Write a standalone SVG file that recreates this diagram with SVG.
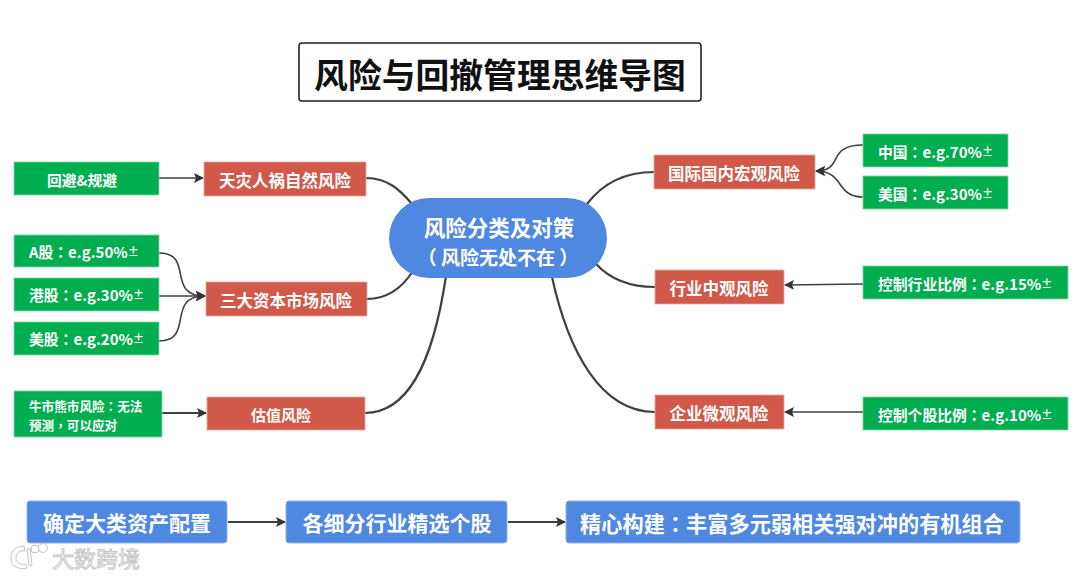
<svg xmlns="http://www.w3.org/2000/svg" width="1080" height="577" viewBox="0 0 1080 577">
<defs>
<style>
text{font-family:"Noto Sans CJK SC","Liberation Sans",sans-serif;font-weight:700;fill:#fff;text-anchor:middle;dominant-baseline:central}
.g{fill:#00ad4f;stroke:#7fd6a7;stroke-width:.8}
.r{fill:#d0594a;stroke:#e8a79e;stroke-width:.8}
.b{fill:#4f88e0;stroke:#8fb3ec;stroke-width:1}
text.gt{font-size:14.8px;text-anchor:start}
.rt{font-size:16.5px}
.bt{font-size:21px}
.k{font-family:"Noto Sans CJK TC",sans-serif}
.e{font-size:15px}
.p{font-size:11px}
.c{fill:none;stroke:#404040;stroke-width:2.2}
.l{fill:none;stroke:#404040;stroke-width:1.6}
.w{fill:#fff;stroke:#c4c4c4;stroke-width:1}
</style>
<marker id="a" markerWidth="11" markerHeight="11" refX="9" refY="5.5" orient="auto" markerUnits="userSpaceOnUse"><path d="M0 0.5L10 5.5L0 10.500L2 5.500Z" fill="#333"/></marker>
</defs>
<rect width="1080" height="577" fill="#fff"/>
<g id="connectors">
<path class="c" d="M366 178C388 178 400 190 412 204"/>
<path class="c" d="M367 299C388 299 402 288 413 271"/>
<path class="c" d="M365 413C405 413 432 370 446 276"/>
<path class="c" d="M587 204C603 183 625 172 654 172"/>
<path class="c" d="M596 264C610 279 630 287 655 287"/>
<path class="c" d="M552 277C568 350 600 412 655 412"/>
<path class="l" marker-end="url(#a)" d="M159 178H203"/>
<path class="l" marker-end="url(#a)" d="M159 253C195 253 165 296 205 296"/>
<path class="l" marker-end="url(#a)" d="M159 296H205"/>
<path class="l" marker-end="url(#a)" d="M159 341C195 341 165 296 205 296"/>
<path class="c" marker-end="url(#a)" d="M162 413H206"/>
<path class="l" marker-end="url(#a)" d="M863 145C825 145 845 171 816 171"/>
<path class="l" marker-end="url(#a)" d="M863 197C835 197 845 171 816 171"/>
<path class="l" marker-end="url(#a)" d="M863 284L785 285"/>
<path class="l" marker-end="url(#a)" d="M863 412H785"/>
<path class="c" marker-end="url(#a)" d="M228 522H285"/>
<path class="c" marker-end="url(#a)" d="M508 522H565"/>
</g>
<g id="title"><rect x="299" y="43" width="402" height="58" rx="3" fill="#fff" stroke="#222" stroke-width="1.6"/><text x="500" y="73" font-size="33.800" style="fill:#111">风险与回撤管理思维导图</text></g>
<g id="center"><rect x="389" y="198" width="218" height="80" rx="40" fill="#4f88e0"/><text font-size="21.500"><tspan x="499" y="226">风险分类及对策</tspan><tspan x="498" y="256" font-size="19"><tspan class="k">（</tspan> 风险无处不在 <tspan class="k">）</tspan></tspan></text></g>
<g id="n1"><rect class="r" x="204" y="162" width="162" height="34"/><text class="rt" x="285" y="180">天灾人祸自然风险</text></g>
<g id="n2"><rect class="r" x="206" y="282" width="161" height="34"/><text class="rt" x="286" y="300">三大资本市场风险</text></g>
<g id="n3"><rect class="r" x="207" y="397" width="158" height="33"/><text x="281" y="414" font-size="15">估值风险</text></g>
<g id="n4"><rect class="r" x="654" y="155" width="161" height="34"/><text class="rt" x="734" y="173">国际国内宏观风险</text></g>
<g id="n5"><rect class="r" x="655" y="270" width="129" height="34"/><text class="rt" x="719" y="288">行业中观风险</text></g>
<g id="n6"><rect class="r" x="655" y="395" width="129" height="34"/><text class="rt" x="719" y="413">企业微观风险</text></g>
<g id="g1"><rect class="g" x="14" y="162" width="145" height="33"/><text class="gt" x="47" y="179">回避&amp;规避</text></g>
<g id="g2"><rect class="g" x="14" y="235" width="145" height="32"/><text class="gt" x="29" y="251">A股<tspan class="k">：</tspan><tspan class="e">e.g.50%</tspan><tspan class="p">±</tspan></text></g>
<g id="g3"><rect class="g" x="14" y="278" width="145" height="33"/><text class="gt" x="29" y="294">港股<tspan class="k">：</tspan><tspan class="e">e.g.30%</tspan><tspan class="p">±</tspan></text></g>
<g id="g4"><rect class="g" x="14" y="322" width="145" height="33"/><text class="gt" x="29" y="338">美股<tspan class="k">：</tspan><tspan class="e">e.g.20%</tspan><tspan class="p">±</tspan></text></g>
<g id="g5"><rect class="g" x="14" y="391" width="148" height="46"/><text font-size="12.600" style="text-anchor:start"><tspan x="29" y="405">牛市熊市风险<tspan class="k">：</tspan>无法</tspan><tspan x="29" y="424">预测<tspan class="k">，</tspan>可以应对</tspan></text></g>
<g id="g6"><rect class="g" x="863" y="134" width="145" height="33"/><text class="gt" x="878" y="151">中国<tspan class="k">：</tspan><tspan class="e">e.g.70%</tspan><tspan class="p">±</tspan></text></g>
<g id="g7"><rect class="g" x="863" y="176" width="145" height="33"/><text class="gt" x="878" y="193">美国<tspan class="k">：</tspan><tspan class="e">e.g.30%</tspan><tspan class="p">±</tspan></text></g>
<g id="g8"><rect class="g" x="863" y="266" width="205" height="33"/><text class="gt" x="878" y="283">控制行业比例<tspan class="k">：</tspan><tspan class="e">e.g.15%</tspan><tspan class="p">±</tspan></text></g>
<g id="g9"><rect class="g" x="863" y="397" width="205" height="33"/><text class="gt" x="878" y="414">控制个股比例<tspan class="k">：</tspan><tspan class="e">e.g.10%</tspan><tspan class="p">±</tspan></text></g>
<g id="s1"><rect class="b" x="27" y="501" width="200" height="42" rx="3"/><text class="bt" x="127" y="522">确定大类资产配置</text></g>
<g id="s2"><rect class="b" x="286" y="501" width="221" height="42" rx="3"/><text class="bt" x="397" y="522">各细分行业精选个股</text></g>
<g id="s3"><rect class="b" x="566" y="501" width="454" height="42" rx="3"/><text x="792" y="522" style="font-size:21.200px">精心构建<tspan class="k">：</tspan>丰富多元弱相关强对冲的有机组合</text></g>
<g id="watermark"><path class="w" d="M24 546C14 546 10 553 11 560C12 567 20 570 27 568L26 564C20 565 16 562 16 558C16 553 20 550 25 551Z"/><path class="w" d="M27 549L30 548L32 565L29 566Z"/><circle class="w" cx="35" cy="549" r="4"/><circle class="w" cx="43" cy="548" r="4.500"/><text x="96" y="557" font-size="22" style="fill:#fff;stroke:#c4c4c4;stroke-width:.9;font-weight:400">大数跨境</text></g>
</svg>
